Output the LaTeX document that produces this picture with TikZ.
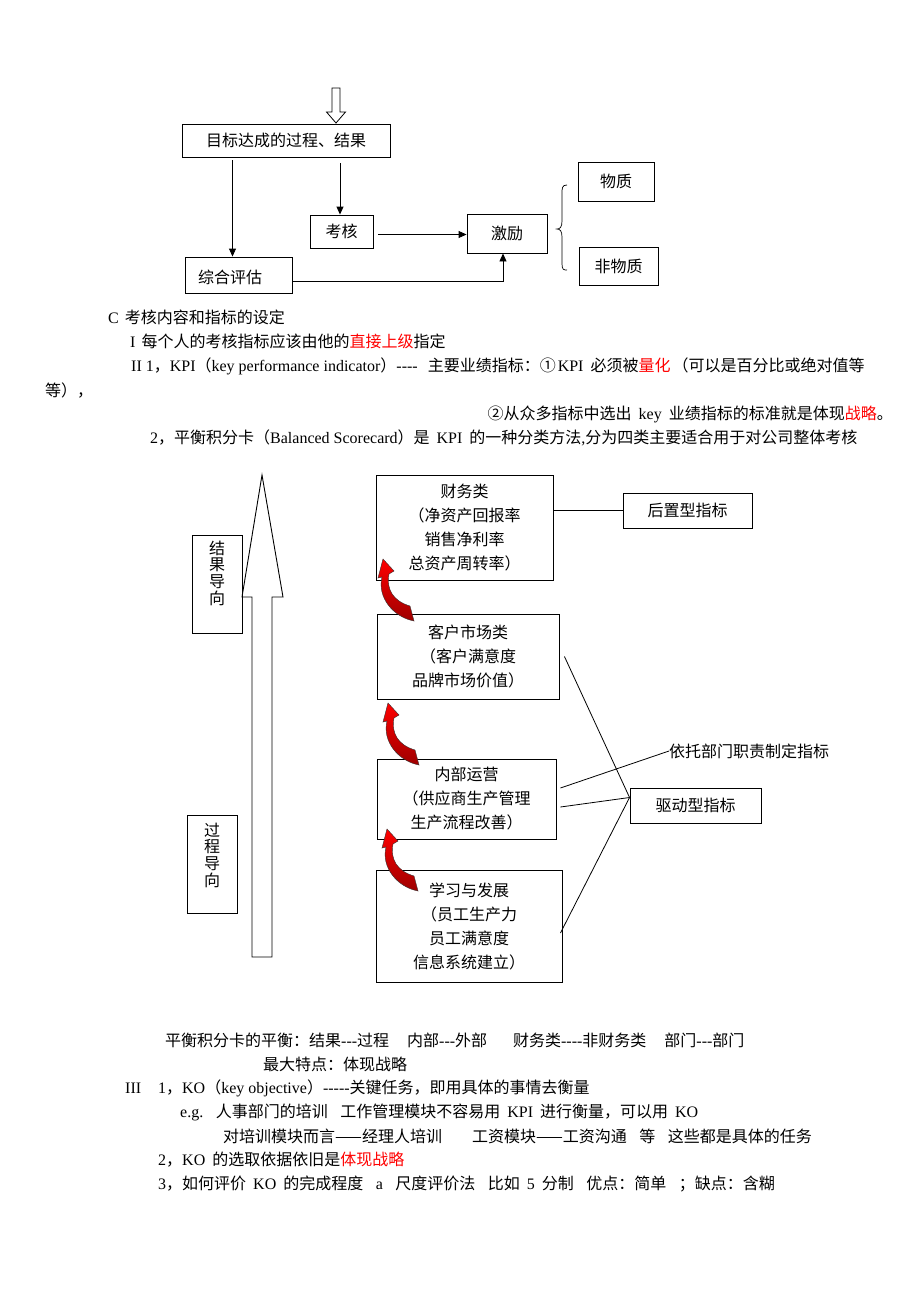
\documentclass[tikz,border=0pt]{standalone}
\usepackage{fontspec}
\setmainfont{Noto Sans CJK SC}
\newfontfamily\latf{Liberation Serif}
\newcommand\ltn[1]{{\latf #1}}
\newcommand\sps{\hspace{7pt}}
\newcommand\spd{\hspace{12.5pt}}
\usetikzlibrary{arrows.meta,calc}
\begin{document}
\begin{tikzpicture}[x=1pt,y=-1pt,
 every node/.style={font=\fontsize{16}{24}\selectfont, inner sep=0pt},
 box/.style={draw, line width=0.9pt, rectangle, align=center},
 arr/.style={-{Triangle[length=8pt,width=7pt]}, line width=0.9pt},
 ln/.style={line width=0.8pt},
 txt/.style={anchor=west},
 vtxt/.style={align=center, font=\fontsize{16}{16.7}\selectfont},
 redarrow/.pic={\draw[top color=red, bottom color=red!62!black, draw=black!80, line width=0.4pt] (0,0) -- (11,12) -- (6,15) .. controls (3,30) and (10,42) .. (27,47) -- (31,62) .. controls (10,58) and (-6,38) .. (-1,18) -- (-5,19) -- cycle;}]

\useasboundingbox (0,0) rectangle (920,1302);
\fill[white] (0,0) rectangle (920,1302);

% ---------- top diagram ----------
\node[box, minimum width=208, minimum height=33] (goal) at (286,140.5) {目标达成的过程、结果};
\draw[line width=0.8pt, fill=white] (332,88) -- (340,88) -- (340,112) -- (345.5,112) -- (336,123) -- (326.5,112) -- (332,112) -- cycle;
\node[box, minimum width=63, minimum height=33] (kaohe) at (341.5,231.5) {考核};
\node[box, minimum width=80, minimum height=39] (jili) at (507,233.5) {激励};
\node[box, minimum width=107, minimum height=36] (zonghe) at (238.5,275) {};
\node[txt] (zonghet) at (198,277) {综合评估};
\node[box, minimum width=76, minimum height=39] (wuzhi) at (616,181.5) {物质};
\node[box, minimum width=79, minimum height=38] (feiwuzhi) at (618.5,266) {非物质};

\coordinate (z1) at ($(zonghe.north)+(-6,0)$);
\draw[arr] ($(goal.south -| z1)+(0,3)$) -- (z1);
\draw[arr] ($(goal.south -| kaohe.north)+(-1.5,6)$) -- ($(kaohe.north)+(-1.5,0)$);
\draw[arr] ($(kaohe.east)+(5,3)$) -- ($(kaohe.east -| jili.west)+(0,3)$);
\draw[arr] ($(zonghe.east)+(0,6)$) -| ($(jili.south)+(-4,0)$);

\draw[line width=0.7pt] (567,185) .. controls (562,185) and (562,188) .. (562,194) -- (562,221) .. controls (562,227) and (560,229) .. (557,229) .. controls (560,229) and (562,231) .. (562,237) -- (562,264) .. controls (562,270) and (564,270) .. (567,270);

% ---------- text ----------
\node[txt] (c) at (108,317) {\ltn{C}\hspace{6pt}考核内容和指标的设定};
\node[txt] (i) at (130,341) {\ltn{I}\hspace{6pt}每个人的考核指标应该由他的\textcolor{red}{直接上级}指定};
\node[txt] (ii) at (131,366) {\ltn{II 1}，\ltn{KPI}（\ltn{key performance indicator}）\ltn{----}\hspace{10pt}主要业绩指标：①\hspace{2pt}\ltn{KPI}\sps 必须被\textcolor{red}{量化}\hspace{2pt}（可以是百分比或绝对值等};
\node[txt] (iib) at (45,390) {等），};
\node[anchor=east] (iic) at (893,414) {②从众多指标中选出\sps\ltn{key}\sps 业绩指标的标准就是体现\textcolor{red}{战略}。};
\node[txt] (two) at (150,438) {\ltn{2}，平衡积分卡（\ltn{Balanced Scorecard}）是\sps\ltn{KPI}\sps 的一种分类方法\ltn{,}分为四类主要适合用于对公司整体考核};

% ---------- balanced scorecard diagram ----------
\draw[line width=0.9pt, fill=white] (252,957) -- (272,957) -- (272,597) -- (283,597) -- (262,475) -- (242,597) -- (252,597) -- cycle;
\node[box, minimum width=50, minimum height=98] (jieguo) at (217,584) {};
\node[vtxt] (jieguot) at (217,573) {结\\果\\导\\向};
\node[box, minimum width=50, minimum height=98] (guocheng) at (212,864) {};
\node[vtxt] (guochengt) at (212,855) {过\\程\\导\\向};

\node[box, minimum width=177, minimum height=105] (caiwu) at (464.5,527.5) {财务类\\（净资产回报率\\销售净利率\\总资产周转率）};
\node[box, minimum width=182, minimum height=85] (kehu) at (468,656.5) {客户市场类\\（客户满意度\\品牌市场价值）};
\node[box, minimum width=179, minimum height=80] (neibu) at (466.5,799) {内部运营\\（供应商生产管理\\生产流程改善）};
\node[box, minimum width=186, minimum height=112] (xuexi) at (469,926) {学习与发展\\（员工生产力\\员工满意度\\信息系统建立）};

\node[box, minimum width=129, minimum height=35] (houzhi) at (687.5,510.5) {后置型指标};
\node[box, minimum width=131, minimum height=35] (qudong) at (695.5,805.5) {驱动型指标};
\node[txt] (yituo) at (669,751) {依托部门职责制定指标};

\draw[ln] (houzhi.west -| caiwu.east) -- (houzhi.west);
\coordinate (P) at ($(qudong.west)+(0,-8)$);
\draw[ln] ($(kehu.east)+(5,0)$) -- (P);
\draw[ln] ($(neibu.east)+(4,8)$) -- (P);
\draw[ln] ($(xuexi.east)+(-2,7)$) -- (P);
\draw[ln] ($(neibu.east)+(4,-11)$) -- (yituo.west);

\pic at (383,559) {redarrow};
\pic at (388,703) {redarrow};
\pic at (387,829) {redarrow};

% ---------- bottom text ----------
\node[txt] (bal) at (165,1040) {平衡积分卡的平衡：结果\ltn{---}过程\hspace{18pt}内部\ltn{---}外部\hspace{26pt}财务类\ltn{----}非财务类\hspace{18pt}部门\ltn{---}部门};
\node[txt] (tese) at (263,1064) {最大特点：体现战略};
\node[txt] (iii) at (125,1088) {\ltn{III}\hspace{17pt}\ltn{1}，\ltn{KO}（\ltn{key objective}）\ltn{-----}关键任务，即用具体的事情去衡量};
\node[txt] (eg) at (180,1112) {\ltn{e.g.}\spd 人事部门的培训\spd 工作管理模块不容易用\sps\ltn{KPI}\sps 进行衡量，可以用\sps\ltn{KO}};
\node[txt] (peixun) at (223,1136) {对培训模块而言——经理人培训\hspace{30pt}工资模块——工资沟通\spd 等\spd 这些都是具体的任务};
\node[txt] (ko2) at (158,1160) {\ltn{2}，\ltn{KO}\sps 的选取依据依旧是\textcolor{red}{体现战略}};
\node[txt] (ko3) at (158,1184) {\ltn{3}，如何评价\sps\ltn{KO}\sps 的完成程度\spd\ltn{a}\spd 尺度评价法\spd 比如\sps\ltn{5}\sps 分制\spd 优点：简单\spd ；缺点：含糊};
\end{tikzpicture}
\end{document}
